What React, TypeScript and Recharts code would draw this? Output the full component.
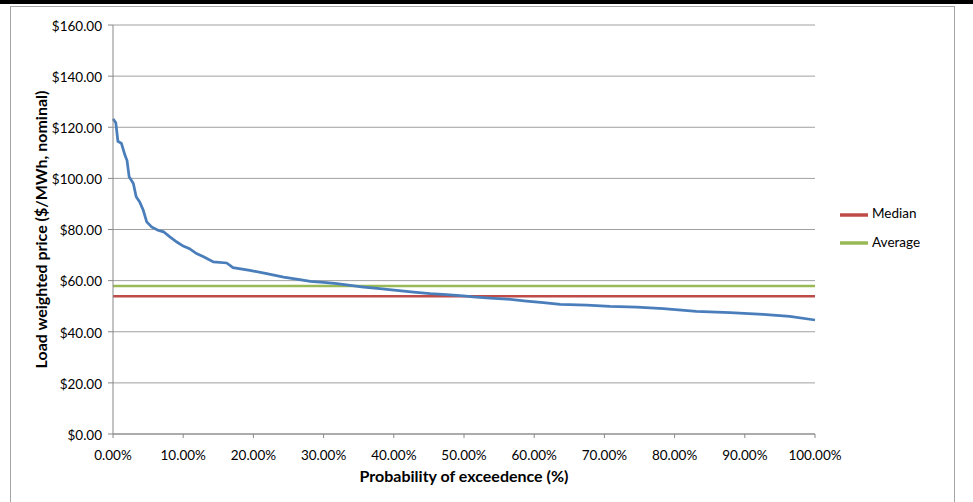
import { LineChart, Line, XAxis, YAxis, CartesianGrid, Legend } from "recharts";

// probability of exceedence (%) and load weighted price ($/MWh)
const exceedence = [
  0, 0.4, 0.7, 1.2, 1.7, 2.0, 2.3, 2.9, 3.3, 3.8, 4.3, 4.8, 5.5, 6.4, 7.2, 8.1, 9.1, 10, 10.9, 11.9,
  12.9, 14.3, 16.2, 17.1, 19.5, 21.9, 24.3, 26.6, 28.1, 30, 31.9, 33.8, 35.7, 38, 40.4, 42.8, 45.2,
  47.5, 49.9, 51.3, 53.7, 56.1, 58.9, 61.3, 63.7, 67.5, 70.8, 74.6, 78.4, 83.1, 87.9, 92.6, 96.4, 100,
];
const price = [
  123.3, 121.8, 114.5, 113.7, 109.1, 107, 100.6, 98, 92.8, 90.8, 87.6, 83, 81, 79.7, 79.1, 77.1, 75.1,
  73.5, 72.5, 70.6, 69.3, 67.3, 66.9, 65.1, 64, 62.7, 61.4, 60.4, 59.7, 59.3, 58.8, 58.1, 57.5, 56.9,
  56.2, 55.5, 54.9, 54.5, 54, 53.6, 53.2, 52.8, 52, 51.4, 50.7, 50.4, 49.9, 49.6, 49, 48, 47.5, 46.8,
  46, 44.6,
];
const medianPrice = 53.9;
const averagePrice = 57.9;

const xTicks = [0, 10, 20, 30, 40, 50, 60, 70, 80, 90, 100];
const yTicks = [0, 20, 40, 60, 80, 100, 120, 140, 160];
const legendOrder = ["Median", "Average"];

const curve = exceedence.map((p, i) => ({ p, price: price[i] }));
const medianLine = [{ p: 0, median: medianPrice }, { p: 100, median: medianPrice }];
const averageLine = [{ p: 0, average: averagePrice }, { p: 100, average: averagePrice }];

const font = "Lato, 'Open Sans', sans-serif";

export default function App() {
  return (
    <div style={{ position: "absolute", left: 0, top: 0, width: 973, height: 502, background: "#fff", overflow: "hidden", fontFamily: font }}>
      <div style={{ position: "absolute", left: 0, top: 0, width: 973, height: 4, background: "#000" }} />
      <div style={{ position: "absolute", left: 10, top: 6, width: 943, height: 520, border: "1px solid #a6a6a6" }} />
      <LineChart
        width={973}
        height={502}
        margin={{ top: 25, right: 158, bottom: 18, left: 0 }}
        style={{ position: "absolute", left: 0, top: 0 }}
      >
        <CartesianGrid vertical={false} stroke="#a0a0a0" strokeWidth={1} />
        <XAxis
          type="number"
          dataKey="p"
          domain={[0, 100]}
          ticks={xTicks}
          tickFormatter={(v: number) => v.toFixed(2) + "%"}
          height={50}
          stroke="#888"
          tickSize={4}
          tickMargin={12}
          tick={{ fill: "#000", fontSize: 13.5, fontFamily: font }}
          label={{ value: "Probability of exceedence (%)", position: "insideBottom", offset: 2, style: { fontWeight: 700, fontSize: 16, fill: "#000", fontFamily: font } }}
        />
        <YAxis
          type="number"
          domain={[0, 160]}
          ticks={yTicks}
          tickFormatter={(v: number) => "$" + v.toFixed(2)}
          width={113}
          stroke="#888"
          tickSize={5}
          tickMargin={6}
          tick={{ fill: "#000", fontSize: 13.5, fontFamily: font, dy: 1 }}
          label={{ value: "Load weighted price ($/MWh, nominal)", angle: -90, position: "insideLeft", offset: 41, style: { textAnchor: "middle", fontWeight: 700, fontSize: 16, fill: "#000", fontFamily: font } }}
        />
        <Legend
          layout="vertical"
          align="center"
          verticalAlign="middle"
          iconType="plainline"
          iconSize={28}
          itemSorter={(item: any) => legendOrder.indexOf(item.value)}
          wrapperStyle={{ left: 840, top: 200, width: 120, fontFamily: font, fontSize: 13.5, lineHeight: "27px" }}
          formatter={(value: string) => <span style={{ color: "#000" }}>{value}</span>}
        />
        <Line data={medianLine} dataKey="median" name="Median" stroke="#be4b48" strokeWidth={2.5} dot={false} isAnimationActive={false} />
        <Line data={averageLine} dataKey="average" name="Average" stroke="#98b954" strokeWidth={2.5} dot={false} isAnimationActive={false} />
        <Line data={curve} dataKey="price" name="Price" legendType="none" stroke="#4a7ebb" strokeWidth={2.75} dot={false} isAnimationActive={false} />
      </LineChart>
    </div>
  );
}
